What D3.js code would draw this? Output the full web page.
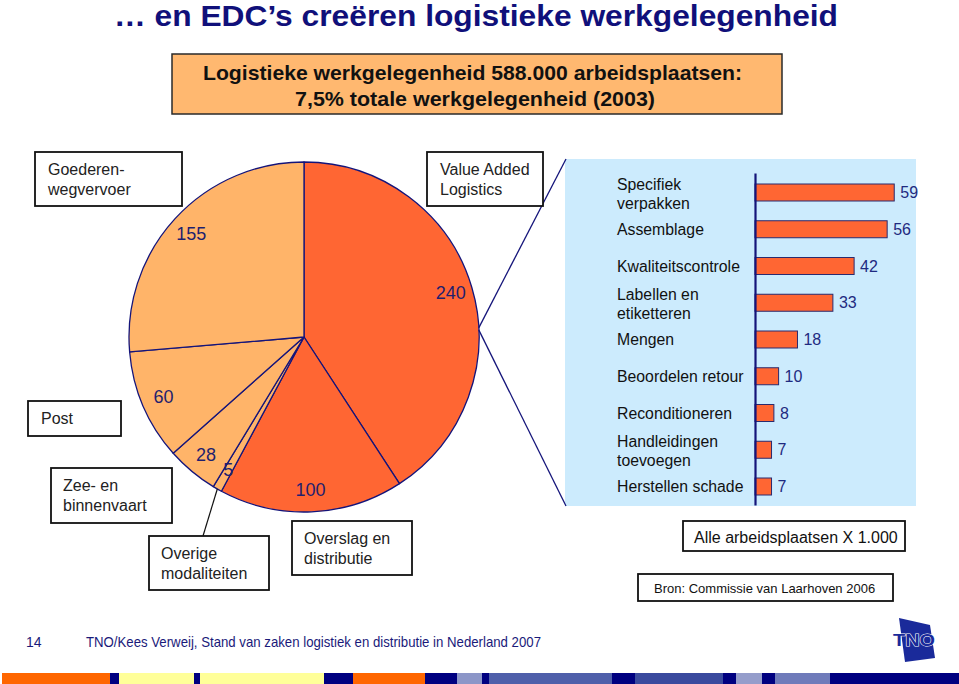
<!DOCTYPE html>
<html>
<head>
<meta charset="utf-8">
<script src="https://cdn.jsdelivr.net/npm/d3@7"></script>
<style>
  html, body { margin: 0; padding: 0; background: #fff; }
  svg { display: block; font-family: "Liberation Sans", Arial, sans-serif; }
</style>
</head>
<body>
<svg id="chart" width="959" height="684"></svg>
<script>
// ---- Data ----
const pieCategories = ["Value Added Logistics", "Overslag en distributie", "Overige modaliteiten", "Zee- en binnenvaart", "Post", "Goederenwegvervoer"];
const pieValues = [240, 100, 5, 28, 60, 155];
const pieDark = [true, true, false, false, false, false];

const barCategories = ["Specifiek verpakken", "Assemblage", "Kwaliteitscontrole", "Labellen en etiketteren", "Mengen", "Beoordelen retour", "Reconditioneren", "Handleidingen toevoegen", "Herstellen schade"];
const barLabelLines = [["Specifiek", "verpakken"], ["Assemblage"], ["Kwaliteitscontrole"], ["Labellen en", "etiketteren"], ["Mengen"], ["Beoordelen retour"], ["Reconditioneren"], ["Handleidingen", "toevoegen"], ["Herstellen schade"]];
const barValues = [59, 56, 42, 33, 18, 10, 8, 7, 7];

const titleText = "\u2026 en EDC\u2019s cre\u00ebren logistieke werkgelegenheid";
const headerLines = ["Logistieke werkgelegenheid 588.000 arbeidsplaatsen:", "7,5% totale werkgelegenheid (2003)"];
const footerText = "TNO/Kees Verweij, Stand van zaken logistiek en distributie in Nederland 2007";

const stripColors = ["#FF6600","#000080","#FFFF99","#000080","#FFFF99","#000080","#FF6600","#000080","#8C96C8","#000080","#4F5FAA","#000080","#3A4A9E","#000080","#959DCB","#000080","#6F7BBA","#000080"];
const stripStops  = [2, 110, 119, 194, 200, 324, 353, 425, 457, 482, 489, 612, 635, 723, 736, 762, 775, 830, 959];

// ---- Setup ----
const svg = d3.select("#chart");
const NAVY = "#14147a";
const DARK_OR = "#FF6633";
const LIGHT_OR = "#FFB469";

// Title
svg.append("text")
  .attr("x", 114).attr("y", 26)
  .attr("textLength", 724).attr("lengthAdjust", "spacingAndGlyphs")
  .attr("font-size", 30).attr("font-weight", "bold").attr("fill", "#10107a")
  .text(titleText);

// Header box
svg.append("rect").attr("x", 172).attr("y", 54).attr("width", 610).attr("height", 60)
  .attr("fill", "#FFB870").attr("stroke", "#2a2a2a").attr("stroke-width", 1.5);
svg.append("text").attr("x", 203).attr("y", 80)
  .attr("textLength", 539).attr("lengthAdjust", "spacingAndGlyphs")
  .attr("font-size", 21).attr("font-weight", "bold").attr("fill", "#111")
  .text(headerLines[0]);
svg.append("text").attr("x", 295).attr("y", 106)
  .attr("textLength", 360).attr("lengthAdjust", "spacingAndGlyphs")
  .attr("font-size", 21).attr("font-weight", "bold").attr("fill", "#111")
  .text(headerLines[1]);

// ---- Bar panel ----
svg.append("rect").attr("x", 565).attr("y", 159).attr("width", 351).attr("height", 347)
  .attr("fill", "#CCEBFD");

// ---- Pie ----
const cx = 304, cy = 337, R = 175;
const pie = d3.pie().sort(null).value(d => d)(pieValues);
const arc = d3.arc().innerRadius(0).outerRadius(R);
const labelArc = d3.arc().innerRadius(153).outerRadius(153);
const pg = svg.append("g").attr("transform", `translate(${cx},${cy})`);

// connector lines from pie to the bar panel
const connAngle = 87 * Math.PI / 180;
const cpx = cx + R * Math.sin(connAngle), cpy = cy - R * Math.cos(connAngle);
svg.append("line").attr("x1", cpx).attr("y1", cpy).attr("x2", 566).attr("y2", 159)
  .attr("stroke", NAVY).attr("stroke-width", 1.3);
svg.append("line").attr("x1", cpx).attr("y1", cpy + 2).attr("x2", 566).attr("y2", 506)
  .attr("stroke", NAVY).attr("stroke-width", 1.3);

pg.selectAll("path.slice").data(pie).enter().append("path")
  .attr("class", "slice")
  .attr("d", arc)
  .attr("fill", (d, i) => pieDark[i] ? DARK_OR : LIGHT_OR)
  .attr("stroke", NAVY).attr("stroke-width", 1.3).attr("stroke-linejoin", "round");

pg.selectAll("text.val").data(pie).enter().append("text")
  .attr("class", "val")
  .attr("transform", d => `translate(${labelArc.centroid(d)})`)
  .attr("text-anchor", "middle").attr("dominant-baseline", "central")
  .attr("font-size", 18).attr("fill", "#1f1f6e")
  .text(d => d.data);

// Leader line for "Overige modaliteiten" (slice index 2)
const small = pie[2];
const midA = (small.startAngle + small.endAngle) / 2;
svg.append("line")
  .attr("x1", cx + R * Math.sin(midA)).attr("y1", cy - R * Math.cos(midA))
  .attr("x2", 203).attr("y2", 536)
  .attr("stroke", "#111").attr("stroke-width", 1.2);

// Label boxes
const boxes = [
  {x: 35, y: 152, w: 147, h: 54, lines: ["Goederen-", "wegvervoer"], tx: 48},
  {x: 427, y: 152, w: 116, h: 54, lines: ["Value Added", "Logistics"], tx: 440},
  {x: 28, y: 401, w: 93, h: 35, lines: ["Post"], tx: 41},
  {x: 51, y: 468, w: 121, h: 55, lines: ["Zee- en", "binnenvaart"], tx: 63},
  {x: 149, y: 536, w: 120, h: 54, lines: ["Overige", "modaliteiten"], tx: 161},
  {x: 292, y: 521, w: 120, h: 54, lines: ["Overslag en", "distributie"], tx: 304}
];
boxes.forEach(b => {
  svg.append("rect").attr("x", b.x).attr("y", b.y).attr("width", b.w).attr("height", b.h)
    .attr("fill", "#fff").attr("stroke", "#111").attr("stroke-width", 1.8);
  const n = b.lines.length;
  b.lines.forEach((t, k) => {
    svg.append("text").attr("x", b.tx)
      .attr("y", b.y + b.h / 2 + (k - (n - 1) / 2) * 20)
      .attr("dominant-baseline", "central")
      .attr("font-size", 16).attr("fill", "#222").text(t);
  });
});

// ---- Bars ----
const xBar = d3.scaleLinear().domain([0, 60]).range([755, 896.6]);
const yBar = d3.scalePoint().domain(barCategories).range([192.5, 486.5]);
const barH = 17;
const bg = svg.append("g");
bg.selectAll("rect").data(barValues).enter().append("rect")
  .attr("x", xBar(0))
  .attr("y", (d, i) => yBar(barCategories[i]) - barH / 2)
  .attr("width", d => xBar(d) - xBar(0))
  .attr("height", barH)
  .attr("fill", DARK_OR).attr("stroke", "#2a2a6e").attr("stroke-width", 1);
bg.selectAll("text.bv").data(barValues).enter().append("text")
  .attr("class", "bv")
  .attr("x", d => xBar(d) + 6)
  .attr("y", (d, i) => yBar(barCategories[i]))
  .attr("dominant-baseline", "central")
  .attr("font-size", 16).attr("fill", "#1f2a80")
  .text(d => d);
barLabelLines.forEach((lines, i) => {
  const c = yBar(barCategories[i]);
  const n = lines.length;
  lines.forEach((t, k) => {
    svg.append("text").attr("x", 617)
      .attr("y", c + (k - (n - 1) / 2) * 19 + (n > 1 ? 1.5 : 0))
      .attr("dominant-baseline", "central")
      .attr("font-size", 15.8).attr("fill", "#111").text(t);
  });
});
// axis
svg.append("g").attr("transform", `translate(${xBar(0)},0)`)
  .call(d3.axisLeft(d3.scaleLinear().range([173, 505])).ticks(0).tickSize(0).tickFormat(""))
  .call(g => g.select(".domain").attr("stroke", "#14147a").attr("stroke-width", 2.2));

// Note boxes
svg.append("rect").attr("x", 683).attr("y", 521).attr("width", 222).attr("height", 30)
  .attr("fill", "#fff").attr("stroke", "#111").attr("stroke-width", 1.8);
svg.append("text").attr("x", 694).attr("y", 537).attr("dominant-baseline", "central")
  .attr("font-size", 16).attr("fill", "#111").text("Alle arbeidsplaatsen X 1.000");
svg.append("rect").attr("x", 638).attr("y", 574).attr("width", 255).attr("height", 27)
  .attr("fill", "#fff").attr("stroke", "#111").attr("stroke-width", 1.8);
svg.append("text").attr("x", 654).attr("y", 588).attr("dominant-baseline", "central")
  .attr("font-size", 13).attr("fill", "#111").text("Bron: Commissie van Laarhoven 2006");

// Footer
svg.append("text").attr("x", 26).attr("y", 647).attr("font-size", 14).attr("fill", "#1a1a7a").text("14");
svg.append("text").attr("x", 86).attr("y", 647).attr("font-size", 15)
  .attr("textLength", 455).attr("lengthAdjust", "spacingAndGlyphs")
  .attr("fill", "#1a1a7a").text(footerText);

// TNO logo
const logo = svg.append("g");
logo.append("polygon").attr("points", "899,618 930,625 935,658 905,662")
  .attr("fill", "#1a2a9a");
logo.append("text").attr("x", 914).attr("y", 646).attr("text-anchor", "middle")
  .attr("font-size", 17).attr("font-weight", "bold").attr("fill", "#1a2a9a")
  .attr("stroke", "#fff").attr("stroke-width", 1).attr("paint-order", "stroke")
  .attr("textLength", 42).attr("lengthAdjust", "spacingAndGlyphs")
  .text("TNO");

// Bottom strip
svg.append("g").selectAll("rect").data(stripColors).enter().append("rect")
  .attr("x", (d, i) => stripStops[i]).attr("y", 673)
  .attr("width", (d, i) => stripStops[i + 1] - stripStops[i]).attr("height", 11)
  .attr("fill", d => d);
</script>
</body>
</html>
